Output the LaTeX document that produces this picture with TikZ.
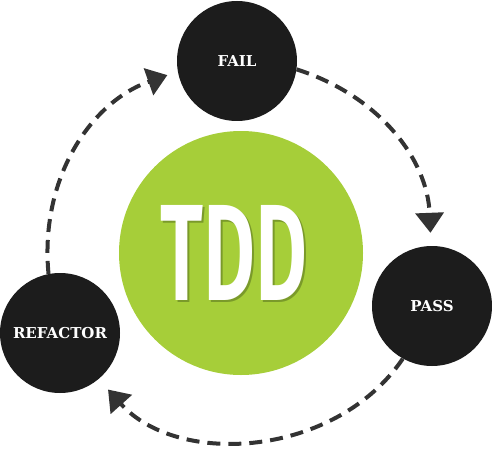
\documentclass[tikz,border=0pt]{standalone}
\usepackage{fontspec}
\setmainfont{DejaVu Serif}
\newfontfamily\tddfont{Fira Sans SemiBold}
\newcommand{\tddword}{\resizebox{147pt}{95pt}{\tddfont TDD}}
\usetikzlibrary{arrows.meta}
\definecolor{tddgreen}{HTML}{A6CE39}
\definecolor{tddshadow}{HTML}{7A9A2A}
\definecolor{stageblack}{HTML}{1C1C1C}
\definecolor{flowgray}{HTML}{333333}

\begin{document}
\begin{tikzpicture}[x=1pt, y=1pt,
		stage/.style={shape=circle, fill=stageblack, minimum size=120pt, inner sep=0pt, text=white, font=\fontsize{15}{18}\selectfont\bfseries},
		flow/.style={draw=flowgray, line width=4pt, dash pattern=on 13pt off 8pt, -{Triangle[width=28pt, length=20pt]}}]
		\useasboundingbox (0,0) rectangle (492,448);
		\draw (241,195) node[shape=circle, fill=tddgreen, minimum size=244pt](tdd){};
		\draw (234.5,194.5) node[inner sep=0pt, text=white](tddtext){\rlap{\kern2pt\raisebox{-2pt}{\textcolor{tddshadow}{\tddword}}}\tddword};
		\draw (237,387) node[stage](fail){FAIL};
		\draw (432,142) node[stage](pass){PASS};
		\draw (60,115) node[stage](refactor){REFACTOR};
		\draw[flow, shorten >=13pt] (fail.-8) to[bend left=35] (pass.91);
		\draw[flow, shorten >=14pt] (pass.-119) to[bend left=52] (refactor.-50);
		\draw[flow, shorten >=11pt] (refactor.101) to[bend left=38] (fail.190);
	\end{tikzpicture}
\end{document}
